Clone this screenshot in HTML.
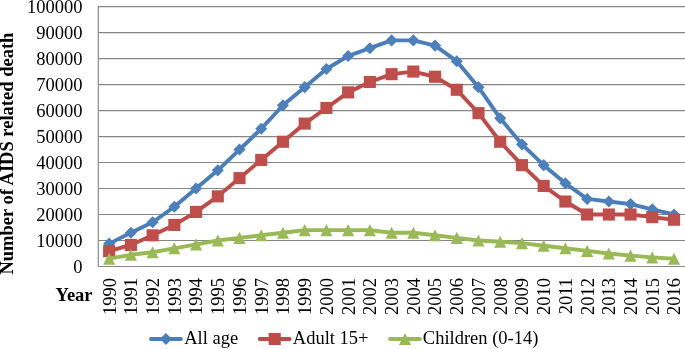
<!DOCTYPE html>
<html><head><meta charset="utf-8"><title>AIDS related death</title>
<style>html,body{margin:0;padding:0;background:#fff}svg{display:block;will-change:transform}</style></head>
<body>
<svg width="685" height="349" viewBox="0 0 685 349" font-family="Liberation Serif, serif">
<rect width="685" height="349" fill="#fff"/>
<line x1="98.3" y1="266.50" x2="685" y2="266.50" stroke="#868686" stroke-width="1.15"/>
<line x1="98.3" y1="240.51" x2="685" y2="240.51" stroke="#868686" stroke-width="1.15"/>
<line x1="98.3" y1="214.52" x2="685" y2="214.52" stroke="#868686" stroke-width="1.15"/>
<line x1="98.3" y1="188.53" x2="685" y2="188.53" stroke="#868686" stroke-width="1.15"/>
<line x1="98.3" y1="162.54" x2="685" y2="162.54" stroke="#868686" stroke-width="1.15"/>
<line x1="98.3" y1="136.55" x2="685" y2="136.55" stroke="#868686" stroke-width="1.15"/>
<line x1="98.3" y1="110.56" x2="685" y2="110.56" stroke="#868686" stroke-width="1.15"/>
<line x1="98.3" y1="84.57" x2="685" y2="84.57" stroke="#868686" stroke-width="1.15"/>
<line x1="98.3" y1="58.58" x2="685" y2="58.58" stroke="#868686" stroke-width="1.15"/>
<line x1="98.3" y1="32.59" x2="685" y2="32.59" stroke="#868686" stroke-width="1.15"/>
<line x1="98.3" y1="6.60" x2="685" y2="6.60" stroke="#868686" stroke-width="1.15"/>
<line x1="98.3" y1="6.1" x2="98.3" y2="267.0" stroke="#868686" stroke-width="1.15"/>
<text x="82.4" y="272.50" font-size="18.5" text-anchor="end" fill="#000">0</text>
<text x="82.4" y="246.51" font-size="18.5" text-anchor="end" fill="#000">10000</text>
<text x="82.4" y="220.52" font-size="18.5" text-anchor="end" fill="#000">20000</text>
<text x="82.4" y="194.53" font-size="18.5" text-anchor="end" fill="#000">30000</text>
<text x="82.4" y="168.54" font-size="18.5" text-anchor="end" fill="#000">40000</text>
<text x="82.4" y="142.55" font-size="18.5" text-anchor="end" fill="#000">50000</text>
<text x="82.4" y="116.56" font-size="18.5" text-anchor="end" fill="#000">60000</text>
<text x="82.4" y="90.57" font-size="18.5" text-anchor="end" fill="#000">70000</text>
<text x="82.4" y="64.58" font-size="18.5" text-anchor="end" fill="#000">80000</text>
<text x="82.4" y="38.59" font-size="18.5" text-anchor="end" fill="#000">90000</text>
<text x="82.4" y="12.60" font-size="18.5" text-anchor="end" fill="#000">100000</text>
<polyline points="109.16,243.63 130.89,232.71 152.61,222.32 174.34,206.72 196.06,188.53 217.79,170.34 239.51,149.55 261.24,128.75 282.96,105.36 304.69,87.17 326.41,68.98 348.14,55.98 369.86,48.18 391.59,40.39 413.31,40.39 435.04,45.59 456.76,61.18 478.49,87.17 500.21,118.36 521.94,144.35 543.66,165.14 565.39,183.33 587.11,198.93 608.84,201.53 630.56,204.12 652.29,209.32 674.01,214.52" fill="none" stroke="#4a7ebb" stroke-width="3.9" stroke-linejoin="round" stroke-linecap="round"/>
<polygon points="109.16,237.58 115.21,243.63 109.16,249.68 103.11,243.63" fill="#4c80bc"/>
<polygon points="130.89,226.66 136.94,232.71 130.89,238.76 124.84,232.71" fill="#4c80bc"/>
<polygon points="152.61,216.27 158.66,222.32 152.61,228.37 146.56,222.32" fill="#4c80bc"/>
<polygon points="174.34,200.67 180.39,206.72 174.34,212.77 168.29,206.72" fill="#4c80bc"/>
<polygon points="196.06,182.48 202.11,188.53 196.06,194.58 190.01,188.53" fill="#4c80bc"/>
<polygon points="217.79,164.29 223.84,170.34 217.79,176.39 211.74,170.34" fill="#4c80bc"/>
<polygon points="239.51,143.50 245.56,149.55 239.51,155.60 233.46,149.55" fill="#4c80bc"/>
<polygon points="261.24,122.70 267.29,128.75 261.24,134.80 255.19,128.75" fill="#4c80bc"/>
<polygon points="282.96,99.31 289.01,105.36 282.96,111.41 276.91,105.36" fill="#4c80bc"/>
<polygon points="304.69,81.12 310.74,87.17 304.69,93.22 298.64,87.17" fill="#4c80bc"/>
<polygon points="326.41,62.93 332.46,68.98 326.41,75.03 320.36,68.98" fill="#4c80bc"/>
<polygon points="348.14,49.93 354.19,55.98 348.14,62.03 342.09,55.98" fill="#4c80bc"/>
<polygon points="369.86,42.13 375.91,48.18 369.86,54.23 363.81,48.18" fill="#4c80bc"/>
<polygon points="391.59,34.34 397.64,40.39 391.59,46.44 385.54,40.39" fill="#4c80bc"/>
<polygon points="413.31,34.34 419.36,40.39 413.31,46.44 407.26,40.39" fill="#4c80bc"/>
<polygon points="435.04,39.54 441.09,45.59 435.04,51.64 428.99,45.59" fill="#4c80bc"/>
<polygon points="456.76,55.13 462.81,61.18 456.76,67.23 450.71,61.18" fill="#4c80bc"/>
<polygon points="478.49,81.12 484.54,87.17 478.49,93.22 472.44,87.17" fill="#4c80bc"/>
<polygon points="500.21,112.31 506.26,118.36 500.21,124.41 494.16,118.36" fill="#4c80bc"/>
<polygon points="521.94,138.30 527.99,144.35 521.94,150.40 515.89,144.35" fill="#4c80bc"/>
<polygon points="543.66,159.09 549.71,165.14 543.66,171.19 537.61,165.14" fill="#4c80bc"/>
<polygon points="565.39,177.28 571.44,183.33 565.39,189.38 559.34,183.33" fill="#4c80bc"/>
<polygon points="587.11,192.88 593.16,198.93 587.11,204.98 581.06,198.93" fill="#4c80bc"/>
<polygon points="608.84,195.47 614.89,201.53 608.84,207.58 602.79,201.53" fill="#4c80bc"/>
<polygon points="630.56,198.07 636.61,204.12 630.56,210.17 624.51,204.12" fill="#4c80bc"/>
<polygon points="652.29,203.27 658.34,209.32 652.29,215.37 646.24,209.32" fill="#4c80bc"/>
<polygon points="674.01,208.47 680.06,214.52 674.01,220.57 667.96,214.52" fill="#4c80bc"/>
<polyline points="109.16,251.17 130.89,244.93 152.61,235.31 174.34,224.92 196.06,211.92 217.79,196.33 239.51,178.13 261.24,159.94 282.96,141.75 304.69,123.56 326.41,107.96 348.14,92.37 369.86,81.97 391.59,74.17 413.31,71.57 435.04,76.77 456.76,89.77 478.49,113.16 500.21,141.75 521.94,165.14 543.66,185.93 565.39,201.53 587.11,214.52 608.84,214.52 630.56,214.52 652.29,217.12 674.01,219.72" fill="none" stroke="#be4b48" stroke-width="3.9" stroke-linejoin="round" stroke-linecap="round"/>
<rect x="103.11" y="245.12" width="12.1" height="12.1" fill="#bf4e4b"/>
<rect x="124.84" y="238.88" width="12.1" height="12.1" fill="#bf4e4b"/>
<rect x="146.56" y="229.26" width="12.1" height="12.1" fill="#bf4e4b"/>
<rect x="168.29" y="218.87" width="12.1" height="12.1" fill="#bf4e4b"/>
<rect x="190.01" y="205.87" width="12.1" height="12.1" fill="#bf4e4b"/>
<rect x="211.74" y="190.28" width="12.1" height="12.1" fill="#bf4e4b"/>
<rect x="233.46" y="172.08" width="12.1" height="12.1" fill="#bf4e4b"/>
<rect x="255.19" y="153.89" width="12.1" height="12.1" fill="#bf4e4b"/>
<rect x="276.91" y="135.70" width="12.1" height="12.1" fill="#bf4e4b"/>
<rect x="298.64" y="117.51" width="12.1" height="12.1" fill="#bf4e4b"/>
<rect x="320.36" y="101.91" width="12.1" height="12.1" fill="#bf4e4b"/>
<rect x="342.09" y="86.32" width="12.1" height="12.1" fill="#bf4e4b"/>
<rect x="363.81" y="75.92" width="12.1" height="12.1" fill="#bf4e4b"/>
<rect x="385.54" y="68.12" width="12.1" height="12.1" fill="#bf4e4b"/>
<rect x="407.26" y="65.52" width="12.1" height="12.1" fill="#bf4e4b"/>
<rect x="428.99" y="70.72" width="12.1" height="12.1" fill="#bf4e4b"/>
<rect x="450.71" y="83.72" width="12.1" height="12.1" fill="#bf4e4b"/>
<rect x="472.44" y="107.11" width="12.1" height="12.1" fill="#bf4e4b"/>
<rect x="494.16" y="135.70" width="12.1" height="12.1" fill="#bf4e4b"/>
<rect x="515.89" y="159.09" width="12.1" height="12.1" fill="#bf4e4b"/>
<rect x="537.61" y="179.88" width="12.1" height="12.1" fill="#bf4e4b"/>
<rect x="559.34" y="195.47" width="12.1" height="12.1" fill="#bf4e4b"/>
<rect x="581.06" y="208.47" width="12.1" height="12.1" fill="#bf4e4b"/>
<rect x="602.79" y="208.47" width="12.1" height="12.1" fill="#bf4e4b"/>
<rect x="624.51" y="208.47" width="12.1" height="12.1" fill="#bf4e4b"/>
<rect x="646.24" y="211.07" width="12.1" height="12.1" fill="#bf4e4b"/>
<rect x="667.96" y="213.67" width="12.1" height="12.1" fill="#bf4e4b"/>
<polyline points="109.16,258.70 130.89,254.80 152.61,252.21 174.34,248.31 196.06,244.41 217.79,240.51 239.51,237.91 261.24,235.31 282.96,232.71 304.69,230.11 326.41,230.11 348.14,230.11 369.86,230.11 391.59,232.71 413.31,232.71 435.04,235.31 456.76,237.91 478.49,240.51 500.21,241.81 521.94,243.11 543.66,245.71 565.39,248.31 587.11,250.91 608.84,253.50 630.56,255.58 652.29,257.40 674.01,258.70" fill="none" stroke="#98b954" stroke-width="3.9" stroke-linejoin="round" stroke-linecap="round"/>
<polygon points="109.16,252.65 115.21,264.75 103.11,264.75" fill="#9aba57"/>
<polygon points="130.89,248.75 136.94,260.85 124.84,260.85" fill="#9aba57"/>
<polygon points="152.61,246.16 158.66,258.26 146.56,258.26" fill="#9aba57"/>
<polygon points="174.34,242.26 180.39,254.36 168.29,254.36" fill="#9aba57"/>
<polygon points="196.06,238.36 202.11,250.46 190.01,250.46" fill="#9aba57"/>
<polygon points="217.79,234.46 223.84,246.56 211.74,246.56" fill="#9aba57"/>
<polygon points="239.51,231.86 245.56,243.96 233.46,243.96" fill="#9aba57"/>
<polygon points="261.24,229.26 267.29,241.36 255.19,241.36" fill="#9aba57"/>
<polygon points="282.96,226.66 289.01,238.76 276.91,238.76" fill="#9aba57"/>
<polygon points="304.69,224.06 310.74,236.16 298.64,236.16" fill="#9aba57"/>
<polygon points="326.41,224.06 332.46,236.16 320.36,236.16" fill="#9aba57"/>
<polygon points="348.14,224.06 354.19,236.16 342.09,236.16" fill="#9aba57"/>
<polygon points="369.86,224.06 375.91,236.16 363.81,236.16" fill="#9aba57"/>
<polygon points="391.59,226.66 397.64,238.76 385.54,238.76" fill="#9aba57"/>
<polygon points="413.31,226.66 419.36,238.76 407.26,238.76" fill="#9aba57"/>
<polygon points="435.04,229.26 441.09,241.36 428.99,241.36" fill="#9aba57"/>
<polygon points="456.76,231.86 462.81,243.96 450.71,243.96" fill="#9aba57"/>
<polygon points="478.49,234.46 484.54,246.56 472.44,246.56" fill="#9aba57"/>
<polygon points="500.21,235.76 506.26,247.86 494.16,247.86" fill="#9aba57"/>
<polygon points="521.94,237.06 527.99,249.16 515.89,249.16" fill="#9aba57"/>
<polygon points="543.66,239.66 549.71,251.76 537.61,251.76" fill="#9aba57"/>
<polygon points="565.39,242.26 571.44,254.36 559.34,254.36" fill="#9aba57"/>
<polygon points="587.11,244.86 593.16,256.96 581.06,256.96" fill="#9aba57"/>
<polygon points="608.84,247.45 614.89,259.56 602.79,259.56" fill="#9aba57"/>
<polygon points="630.56,249.53 636.61,261.63 624.51,261.63" fill="#9aba57"/>
<polygon points="652.29,251.35 658.34,263.45 646.24,263.45" fill="#9aba57"/>
<polygon points="674.01,252.65 680.06,264.75 667.96,264.75" fill="#9aba57"/>
<text transform="translate(115.56,277.9) rotate(-90)" font-size="18.5" text-anchor="end" fill="#000">1990</text>
<text transform="translate(137.29,277.9) rotate(-90)" font-size="18.5" text-anchor="end" fill="#000">1991</text>
<text transform="translate(159.01,277.9) rotate(-90)" font-size="18.5" text-anchor="end" fill="#000">1992</text>
<text transform="translate(180.74,277.9) rotate(-90)" font-size="18.5" text-anchor="end" fill="#000">1993</text>
<text transform="translate(202.46,277.9) rotate(-90)" font-size="18.5" text-anchor="end" fill="#000">1994</text>
<text transform="translate(224.19,277.9) rotate(-90)" font-size="18.5" text-anchor="end" fill="#000">1995</text>
<text transform="translate(245.91,277.9) rotate(-90)" font-size="18.5" text-anchor="end" fill="#000">1996</text>
<text transform="translate(267.64,277.9) rotate(-90)" font-size="18.5" text-anchor="end" fill="#000">1997</text>
<text transform="translate(289.36,277.9) rotate(-90)" font-size="18.5" text-anchor="end" fill="#000">1998</text>
<text transform="translate(311.09,277.9) rotate(-90)" font-size="18.5" text-anchor="end" fill="#000">1999</text>
<text transform="translate(332.81,277.9) rotate(-90)" font-size="18.5" text-anchor="end" fill="#000">2000</text>
<text transform="translate(354.54,277.9) rotate(-90)" font-size="18.5" text-anchor="end" fill="#000">2001</text>
<text transform="translate(376.26,277.9) rotate(-90)" font-size="18.5" text-anchor="end" fill="#000">2002</text>
<text transform="translate(397.99,277.9) rotate(-90)" font-size="18.5" text-anchor="end" fill="#000">2003</text>
<text transform="translate(419.71,277.9) rotate(-90)" font-size="18.5" text-anchor="end" fill="#000">2004</text>
<text transform="translate(441.44,277.9) rotate(-90)" font-size="18.5" text-anchor="end" fill="#000">2005</text>
<text transform="translate(463.16,277.9) rotate(-90)" font-size="18.5" text-anchor="end" fill="#000">2006</text>
<text transform="translate(484.89,277.9) rotate(-90)" font-size="18.5" text-anchor="end" fill="#000">2007</text>
<text transform="translate(506.61,277.9) rotate(-90)" font-size="18.5" text-anchor="end" fill="#000">2008</text>
<text transform="translate(528.34,277.9) rotate(-90)" font-size="18.5" text-anchor="end" fill="#000">2009</text>
<text transform="translate(550.06,277.9) rotate(-90)" font-size="18.5" text-anchor="end" fill="#000">2010</text>
<text transform="translate(571.79,277.9) rotate(-90)" font-size="18.5" text-anchor="end" fill="#000">2011</text>
<text transform="translate(593.51,277.9) rotate(-90)" font-size="18.5" text-anchor="end" fill="#000">2012</text>
<text transform="translate(615.24,277.9) rotate(-90)" font-size="18.5" text-anchor="end" fill="#000">2013</text>
<text transform="translate(636.96,277.9) rotate(-90)" font-size="18.5" text-anchor="end" fill="#000">2014</text>
<text transform="translate(658.69,277.9) rotate(-90)" font-size="18.5" text-anchor="end" fill="#000">2015</text>
<text transform="translate(680.41,277.9) rotate(-90)" font-size="18.5" text-anchor="end" fill="#000">2016</text>
<text x="55.6" y="300.7" font-size="18.5" font-weight="bold" fill="#000">Year</text>
<text transform="translate(12.9,153.6) rotate(-90)" font-size="18.5" font-weight="bold" text-anchor="middle" fill="#000">Number of AIDS related death</text>
<line x1="151.0" y1="339.0" x2="180.9" y2="339.0" stroke="#4a7ebb" stroke-width="3.9" stroke-linecap="round"/>
<polygon points="165.90,332.95 171.95,339.00 165.90,345.05 159.85,339.00" fill="#4a7ebb"/>
<text x="184.2" y="343.9" font-size="18.5" fill="#000">All age</text>
<line x1="259.7" y1="339.0" x2="289.59999999999997" y2="339.0" stroke="#be4b48" stroke-width="3.9" stroke-linecap="round"/>
<rect x="268.65" y="332.95" width="12.1" height="12.1" fill="#be4b48"/>
<text x="292.8" y="343.9" font-size="18.5" fill="#000">Adult 15+</text>
<line x1="390.0" y1="339.0" x2="419.9" y2="339.0" stroke="#98b954" stroke-width="3.9" stroke-linecap="round"/>
<polygon points="405.00,332.95 411.05,345.05 398.95,345.05" fill="#98b954"/>
<text x="422.8" y="343.9" font-size="18.5" fill="#000">Children (0-14)</text>
</svg>
</body></html>
